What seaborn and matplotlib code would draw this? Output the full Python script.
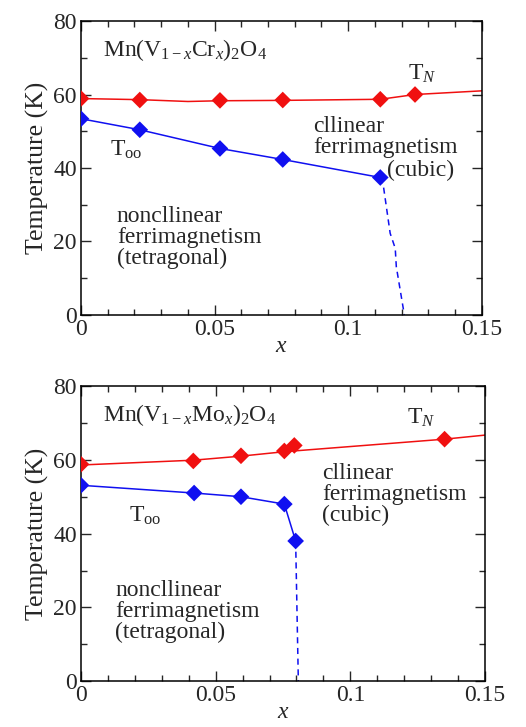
import matplotlib
matplotlib.use("Agg")
import matplotlib.pyplot as plt
import seaborn as sns
import pandas as pd
from matplotlib.ticker import MultipleLocator

# --- Mn(V1-xCrx)2O4 ---
cr_tn_x = [0.0, 0.022, 0.052, 0.0755, 0.112, 0.125]
cr_tn_y = [58.9, 58.5, 58.4, 58.5, 58.7, 60.0]
cr_tn_line_x = [0.0, 0.022, 0.04, 0.052, 0.0755, 0.112, 0.125, 0.15]
cr_tn_line_y = [58.9, 58.6, 58.1, 58.3, 58.4, 58.7, 60.0, 61.0]
cr_too_x = [0.0, 0.022, 0.052, 0.0755, 0.112]
cr_too_y = [53.4, 50.4, 45.3, 42.3, 37.4]
cr_dash_x = [0.112, 0.1132, 0.1157, 0.1176, 0.118, 0.121]
cr_dash_y = [37.4, 34.9, 22.2, 18.1, 13.1, 0.0]

# --- Mn(V1-xMox)2O4 ---
mo_tn_x = [0.0, 0.0417, 0.0594, 0.0755, 0.0792, 0.135]
mo_tn_y = [58.8, 59.7, 61.1, 62.4, 63.9, 65.6]
mo_tn_line_x = [0.0, 0.0417, 0.0594, 0.0755, 0.135, 0.15]
mo_tn_line_y = [58.6, 59.9, 61.0, 62.2, 65.6, 66.7]
mo_too_x = [0.0, 0.042, 0.0594, 0.0755, 0.0797]
mo_too_y = [53.1, 51.0, 50.0, 48.0, 38.0]
mo_dash_x = [0.0797, 0.0807]
mo_dash_y = [38.0, 0.0]

RED = "#f01010"
BLUE = "#1010f0"

sns.set_style("ticks")
plt.rcParams["font.family"] = ["Liberation Serif", "DejaVu Serif"]
plt.rcParams["mathtext.fontset"] = "custom"
plt.rcParams["mathtext.rm"] = "Liberation Serif"
plt.rcParams["mathtext.it"] = "Liberation Serif:italic"

fig = plt.figure(figsize=(5.26, 7.27), dpi=100)
ax1 = fig.add_axes([0.154, 0.567, 0.762, 0.404])
ax2 = fig.add_axes([0.154, 0.063, 0.768, 0.406])


def draw_panel(ax, tn_x, tn_y, tnl_x, tnl_y, too_x, too_y, d_x, d_y):
    sns.lineplot(x=tnl_x, y=tnl_y, ax=ax, color=RED, lw=1.1, sort=False, estimator=None)
    sns.lineplot(x=too_x, y=too_y, ax=ax, color=BLUE, lw=1.1, sort=False, estimator=None)
    sns.lineplot(x=d_x, y=d_y, ax=ax, color=BLUE, lw=1.1, sort=False, estimator=None,
                 linestyle=(0, (4, 3)))
    sns.scatterplot(x=tn_x, y=tn_y, ax=ax, color=RED, marker="D", s=72, edgecolor="none", zorder=3)
    sns.scatterplot(x=too_x, y=too_y, ax=ax, color=BLUE, marker="D", s=72, edgecolor="none", zorder=3)

    ax.set_xlim(0, 0.15)
    ax.set_ylim(0, 80)
    ax.xaxis.set_major_locator(MultipleLocator(0.05))
    ax.xaxis.set_minor_locator(MultipleLocator(0.01))
    ax.yaxis.set_major_locator(MultipleLocator(20))
    ax.yaxis.set_minor_locator(MultipleLocator(10))
    ax.set_xticks([0, 0.05, 0.1, 0.15])
    ax.set_xticklabels(["0", "0.05", "0.1", "0.15"])
    ax.tick_params(which="both", direction="in", top=True, right=True, labelsize=17, width=1)
    ax.tick_params(which="major", length=7, pad=3)
    ax.tick_params(which="minor", length=4)
    for sp in ax.spines.values():
        sp.set_linewidth(1.1)
        sp.set_color("black")
    ax.set_xlabel("$x$", fontsize=17, labelpad=-3)
    ax.set_ylabel("Temperature (K)", fontsize=18.5, labelpad=3)


draw_panel(ax1, cr_tn_x, cr_tn_y, cr_tn_line_x, cr_tn_line_y, cr_too_x, cr_too_y, cr_dash_x, cr_dash_y)
draw_panel(ax2, mo_tn_x, mo_tn_y, mo_tn_line_x, mo_tn_line_y, mo_too_x, mo_too_y, mo_dash_x, mo_dash_y)

fs = 17
# top panel labels
ax1.text(0.0084, 72, "Mn(V$_{1-x}$Cr$_x$)$_2$O$_4$", fontsize=fs, va="center")
ax1.text(0.1225, 65.5, "T$_N$", fontsize=fs, va="center")
ax1.text(0.0109, 44.8, "T$_{\\rm oo}$", fontsize=fs, va="center")
ax1.text(0.087, 48.5, "cllinear\nferrimagnetism", fontsize=fs, va="center", linespacing=1.0)
ax1.text(0.1145, 39.4, "(cubic)", fontsize=fs, va="center")
ax1.text(0.0134, 21, "noncllinear\nferrimagnetism\n(tetragonal)", fontsize=fs, va="center",
         linespacing=1.0)

# bottom panel labels
ax2.text(0.0083, 72.1, "Mn(V$_{1-x}$Mo$_x$)$_2$O$_4$", fontsize=fs, va="center")
ax2.text(0.121, 71.5, "T$_N$", fontsize=fs, va="center")
ax2.text(0.018, 44.8, "T$_{\\rm oo}$", fontsize=fs, va="center")
ax2.text(0.0894, 50.6, "cllinear\nferrimagnetism\n(cubic)", fontsize=fs, va="center",
         linespacing=1.0)
ax2.text(0.0126, 18.8, "noncllinear\nferrimagnetism\n(tetragonal)", fontsize=fs, va="center",
         linespacing=1.0)

fig.savefig("out.png", dpi=100)
